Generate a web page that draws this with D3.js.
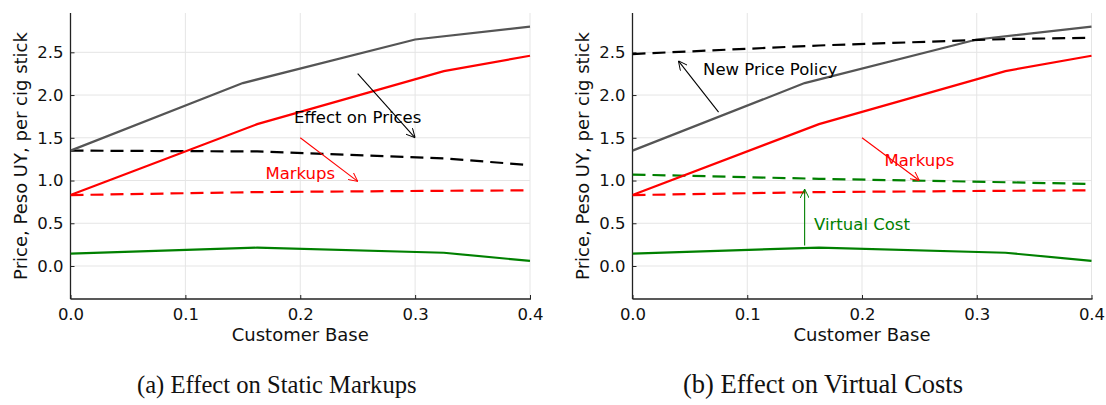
<!DOCTYPE html>
<html>
<head>
<meta charset="utf-8">
<script src="https://cdn.jsdelivr.net/npm/d3@7"></script>
<style>
  body { margin: 0; background: white; }
</style>
</head>
<body>
<script>
var canvasWidth = 1106;
var canvasHeight = 405;

// data
var xPriceStatus = [0, 0.15, 0.30, 0.40];
var priceStatus = [1.35, 2.14, 2.65, 2.80];

var xGrid = [0, 0.1625, 0.325, 0.40];
var markupStatus = [0.83, 1.66, 2.28, 2.46];
var costStatus = [0.145, 0.215, 0.155, 0.06];
var priceStatic = [1.35, 1.34, 1.26, 1.18];
var markupStatic = [0.83, 0.865, 0.88, 0.885];
var pricePolicy = [2.48, 2.58, 2.655, 2.67];
var costVirtual = [1.07, 1.02, 0.98, 0.96];

var xTicks = [0, 0.1, 0.2, 0.3, 0.4];
var yTicks = [0, 0.5, 1.0, 1.5, 2.0, 2.5];
var captions = ["(a) Effect on Static Markups", "(b) Effect on Virtual Costs"];

var svg = d3.select("body").append("svg")
    .attr("width", canvasWidth)
    .attr("height", canvasHeight)

var defs = svg.append("defs");
["black", "red", "green"].forEach(function(c) {
    defs.append("marker")
        .attr("id", "arrow-" + c)
        .attr("viewBox", "0 0 10 10")
        .attr("refX", 10)
        .attr("refY", 5)
        .attr("markerWidth", 9)
        .attr("markerHeight", 9)
        .attr("markerUnits", "userSpaceOnUse")
        .attr("orient", "auto")
        .append("path")
        .attr("d", "M0,0 L10,5 L0,10")
        .attr("fill", "none")
        .attr("stroke", c == "green" ? "#008000" : c)
        .attr("stroke-width", 1.1)
});

var plotTop = 13, plotBottom = 299;

function drawPanel(left, right, series, notes, caption, captionX, captionSize, id) {
    var xScale = d3.scaleLinear().domain([0, 0.4]).range([left, right]);
    var yScale = d3.scaleLinear().domain([-0.386, 2.96]).range([plotBottom, plotTop]);

    var g = svg.append("g");

    g.append("clipPath").attr("id", "clip" + id)
        .append("rect")
        .attr("x", left).attr("y", plotTop)
        .attr("width", right - left + 2).attr("height", plotBottom - plotTop);

    // grid
    g.selectAll(".gx").data(xTicks).enter().append("line")
        .attr("x1", d => xScale(d)).attr("x2", d => xScale(d))
        .attr("y1", plotTop).attr("y2", plotBottom)
        .attr("stroke", "#e5e5e5").attr("stroke-width", 1)
    g.selectAll(".gy").data(yTicks).enter().append("line")
        .attr("x1", left).attr("x2", right)
        .attr("y1", d => yScale(d)).attr("y2", d => yScale(d))
        .attr("stroke", "#e5e5e5").attr("stroke-width", 1)

    // axes
    var xAxis = g.append("g")
        .attr("transform", "translate(0," + plotBottom + ")")
        .call(d3.axisBottom(xScale).tickValues(xTicks).tickFormat(d3.format(".1f")).tickSizeInner(-4).tickSizeOuter(0).tickPadding(9))
    var yAxis = g.append("g")
        .attr("transform", "translate(" + left + ",0)")
        .call(d3.axisLeft(yScale).tickValues(yTicks).tickFormat(d3.format(".1f")).tickSizeInner(-4).tickSizeOuter(0).tickPadding(7))
    ;[xAxis, yAxis].forEach(function(a) {
        a.select(".domain").attr("stroke", "#222").attr("stroke-width", 1.3)
        a.selectAll(".tick line").attr("stroke", "#222")
        a.selectAll(".tick text")
            .attr("font-family", "DejaVu Sans")
            .attr("font-size", "16.5px")
            .attr("fill", "#111")
    });
    xAxis.select(".domain").attr("d", "M" + left + ",0H" + (right + 1))
    yAxis.select(".domain").attr("d", "M0," + plotTop + "V" + plotBottom)

    g.append("text")
        .attr("x", (left + right) / 2)
        .attr("y", 341)
        .attr("text-anchor", "middle")
        .attr("font-family", "DejaVu Sans")
        .attr("font-size", "18px")
        .attr("fill", "#111")
        .text("Customer Base")

    g.append("text")
        .attr("transform", "translate(" + (left - 44) + "," + ((plotTop + plotBottom) / 2) + ") rotate(-90)")
        .attr("text-anchor", "middle")
        .attr("font-family", "DejaVu Sans")
        .attr("font-size", "18px")
        .attr("fill", "#111")
        .text("Price, Peso UY, per cig stick")

    // lines
    var lines = g.append("g").attr("clip-path", "url(#clip" + id + ")");
    series.forEach(function(s) {
        var line = d3.line().x((d, i) => xScale(s.x[i])).y(d => yScale(d));
        lines.append("path")
            .attr("d", line(s.y))
            .attr("fill", "none")
            .attr("stroke", s.color)
            .attr("stroke-width", 2.2)
            .attr("stroke-dasharray", s.dash ? "13,7" : null)
    });

    // annotations
    notes.forEach(function(n) {
        if (n.from) {
            g.append("line")
                .attr("x1", xScale(n.from[0])).attr("y1", yScale(n.from[1]))
                .attr("x2", xScale(n.to[0])).attr("y2", yScale(n.to[1]))
                .attr("stroke", n.stroke)
                .attr("stroke-width", 1.1)
                .attr("marker-end", "url(#arrow-" + n.marker + ")")
        }
        if (n.text) {
            g.append("text")
                .attr("x", xScale(n.at[0]))
                .attr("y", yScale(n.at[1]))
                .attr("dy", "0.35em")
                .attr("text-anchor", "middle")
                .attr("font-family", "DejaVu Sans")
                .attr("font-size", "16.5px")
                .attr("fill", n.stroke)
                .text(n.text)
        }
    });

    g.append("text")
        .attr("x", captionX)
        .attr("y", 393)
        .attr("font-family", "Liberation Serif")
        .attr("font-size", captionSize)
        .attr("fill", "#111")
        .text(caption)
}

drawPanel(70.5, 530, [
    { x: xGrid, y: costStatus, color: "#008000" },
    { x: xGrid, y: markupStatic, color: "#ff0000", dash: true },
    { x: xGrid, y: priceStatic, color: "#000000", dash: true },
    { x: xGrid, y: markupStatus, color: "#ff0000" },
    { x: xPriceStatus, y: priceStatus, color: "#555555" }
], [
    { from: [0.25, 2.25], to: [0.30, 1.50], stroke: "black", marker: "black" },
    { at: [0.25, 1.74], text: "Effect on Prices", stroke: "black" },
    { from: [0.20, 1.50], to: [0.25, 0.99], stroke: "red", marker: "red" },
    { at: [0.20, 1.09], text: "Markups", stroke: "red" }
], captions[0], 137, "24.6px", 0);

drawPanel(632.5, 1091.5, [
    { x: xGrid, y: costStatus, color: "#008000" },
    { x: xGrid, y: markupStatic, color: "#ff0000", dash: true },
    { x: xGrid, y: costVirtual, color: "#008000", dash: true },
    { x: xGrid, y: markupStatus, color: "#ff0000" },
    { x: xPriceStatus, y: priceStatus, color: "#555555" },
    { x: xGrid, y: pricePolicy, color: "#000000", dash: true }
], [
    { from: [0.075, 1.80], to: [0.04, 2.40], stroke: "black", marker: "black" },
    { at: [0.12, 2.30], text: "New Price Policy", stroke: "black" },
    { from: [0.20, 1.50], to: [0.25, 1.00], stroke: "red", marker: "red" },
    { at: [0.25, 1.24], text: "Markups", stroke: "red" },
    { from: [0.15, 0.24], to: [0.15, 0.90], stroke: "#008000", marker: "green" },
    { at: [0.20, 0.49], text: "Virtual Cost", stroke: "#008000" }
], captions[1], 683, "26.5px", 1);
</script>
</body>
</html>
